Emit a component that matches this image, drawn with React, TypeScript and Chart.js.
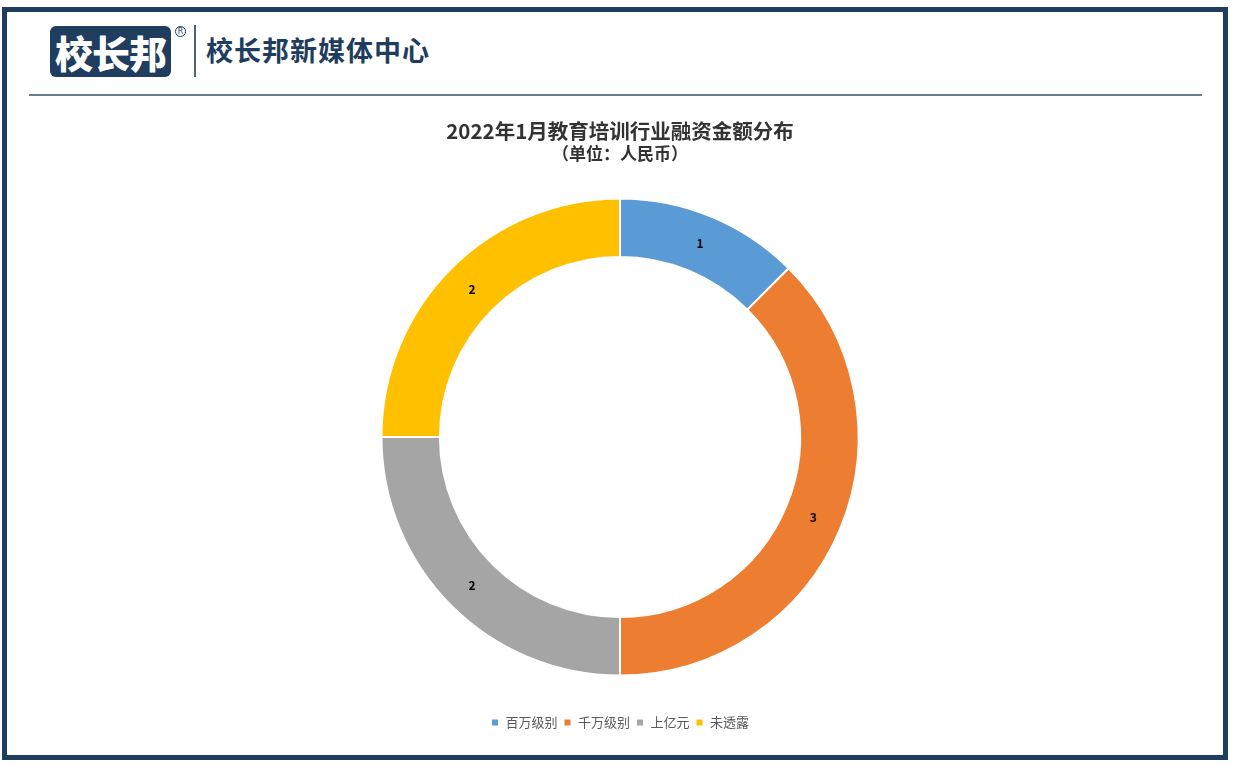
import React, { useEffect, useRef } from "react";
import { Chart, registerables } from "chart.js";

Chart.register(...registerables);

const categories = ["百万级别", "千万级别", "上亿元", "未透露"];
const values = [1, 3, 2, 2];
const colors = ["#5B9BD5", "#ED7D31", "#A5A5A5", "#FFC000"];
const titleText = "2022年1月教育培训行业融资金额分布";
const subtitleText = "（单位：人民币）";
const brandName = "校长邦";
const brandCenter = "校长邦新媒体中心";

const FONT = "'Noto Sans CJK SC', 'Open Sans', sans-serif";

const labelPlugin = {
  id: "sliceLabels",
  afterDatasetsDraw(chart: any) {
    const ctx = chart.ctx;
    const meta = chart.getDatasetMeta(0);
    ctx.save();
    ctx.font = "bold 12px " + FONT;
    ctx.fillStyle = "#000000";
    ctx.textAlign = "center";
    ctx.textBaseline = "middle";
    meta.data.forEach((arc: any, i: number) => {
      const p = arc.tooltipPosition();
      ctx.fillText(String(chart.data.datasets[0].data[i]), p.x, p.y);
    });
    ctx.restore();
  },
};

export default function App() {
  const ref = useRef<HTMLCanvasElement>(null);
  useEffect(() => {
    if (!ref.current) return;
    const chart = new Chart(ref.current, {
      type: "doughnut",
      data: {
        labels: categories,
        datasets: [
          {
            data: values,
            backgroundColor: colors,
            borderColor: "#ffffff",
            borderWidth: 2,
            hoverOffset: 0,
          },
        ],
      },
      plugins: [labelPlugin],
      options: {
        animation: false,
        responsive: false,
        cutout: "75.5%",
        radius: "87.7%",
        layout: { padding: { top: 0, bottom: 6, left: 5, right: 0 } },
        plugins: {
          tooltip: { enabled: false },
          title: {
            display: true,
            text: titleText,
            color: "#333333",
            font: { family: FONT, size: 20.5, weight: "bold" },
            padding: { top: 19, bottom: 0 },
          },
          subtitle: {
            display: true,
            text: subtitleText,
            color: "#333333",
            font: { family: FONT, size: 17, weight: "bold" },
            padding: { top: 0, bottom: 0 },
          },
          legend: {
            position: "bottom",
            labels: {
              boxWidth: 8,
              boxHeight: 8,
              padding: 6,
              color: "#595959",
              font: { family: FONT, size: 13 },
            },
          },
        },
      },
    });
    return () => chart.destroy();
  }, []);

  return (
    <div
      style={{
        position: "fixed",
        left: 0,
        top: 0,
        width: 1235,
        height: 765,
        background: "#ffffff",
        fontFamily: FONT,
      }}
    >
      <div
        style={{
          position: "absolute",
          left: 2,
          top: 7,
          width: 1226,
          height: 753,
          boxSizing: "border-box",
          border: "5px solid #1f3d5e",
        }}
      />
      <div
        style={{
          position: "absolute",
          left: 50,
          top: 26,
          width: 121,
          height: 51,
          background: "#1f3d5e",
          borderRadius: 6,
          color: "#ffffff",
          fontWeight: 900,
          fontSize: 38,
          lineHeight: "51px",
          textAlign: "center",
          letterSpacing: -1,
        }}
      >
        {brandName}
      </div>
      <div
        style={{
          position: "absolute",
          left: 175,
          top: 26,
          width: 11,
          height: 11,
          boxSizing: "border-box",
          border: "1px solid #1f3d5e",
          borderRadius: "50%",
          fontSize: 8,
          color: "#1f3d5e",
          lineHeight: "9px",
          textAlign: "center",
          fontFamily: "'DejaVu Sans', sans-serif",
        }}
      >
        R
      </div>
      <div
        style={{
          position: "absolute",
          left: 194,
          top: 25,
          width: 2,
          height: 52,
          background: "#4d6379",
        }}
      />
      <div
        style={{
          position: "absolute",
          left: 206,
          top: 34,
          fontSize: 27,
          fontWeight: 700,
          color: "#1f3d5e",
          lineHeight: "32px",
          letterSpacing: 1,
          whiteSpace: "nowrap",
        }}
      >
        {brandCenter}
      </div>
      <div
        style={{
          position: "absolute",
          left: 29,
          top: 94,
          width: 1173,
          height: 2,
          background: "#6a7e90",
        }}
      />
      <canvas
        ref={ref}
        width={1235}
        height={645}
        style={{ position: "absolute", left: 0, top: 100 }}
      />
    </div>
  );
}
